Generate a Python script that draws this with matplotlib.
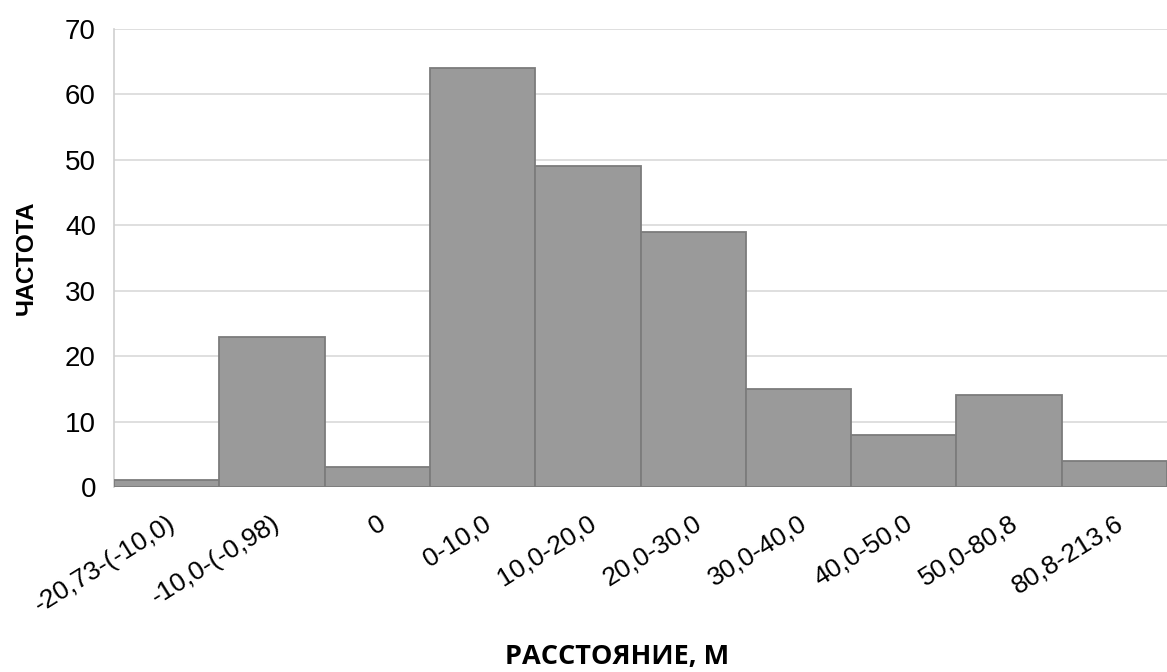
import matplotlib.pyplot as plt
import matplotlib.transforms as mtransforms
import numpy as np

# --- data
categories = ['-20,73-(-10,0)', '-10,0-(-0,98)', '0', '0-10,0', '10,0-20,0',
              '20,0-30,0', '30,0-40,0', '40,0-50,0', '50,0-80,8', '80,8-213,6']
frequency = [1, 23, 3, 64, 49, 39, 15, 8, 14, 4]

plt.rcParams['font.family'] = ['Liberation Sans', 'DejaVu Sans']

fig = plt.figure(figsize=(11.67, 6.72), dpi=100)
ax = fig.add_axes([0.0977, 0.2753, 0.9023, 0.6815])

x = np.arange(len(categories))
ax.bar(x, frequency, width=1.0, color='#9a9a9a', edgecolor='#7c7c7c', linewidth=1.3, zorder=3)

ax.set_xlim(-0.5, len(categories) - 0.5)
ax.set_ylim(0, 70)
ax.set_yticks(range(0, 71, 10))
ax.yaxis.grid(True, color='#d9d9d9', linewidth=1.2, zorder=0)

for side in ['top', 'right', 'bottom']:
    ax.spines[side].set_visible(False)
ax.spines['left'].set_color('#d0d0d0')
ax.spines['left'].set_linewidth(1.2)
ax.tick_params(axis='y', length=0, labelsize=20, pad=13)
ax.tick_params(axis='x', length=0, labelsize=19, pad=0)

# rotated category labels, top-right corner hooked just under each bar
ax.set_xticks(x)
ax.set_xticklabels(categories, rotation=32, ha='right', va='top', rotation_mode='anchor')
shift = mtransforms.ScaledTranslation(0.0, -0.24, fig.dpi_scale_trans)
for lbl in ax.get_xticklabels():
    lbl.set_transform(lbl.get_transform() + shift)

ax.set_ylabel('ЧАСТОТА', fontsize=17.5, fontweight='bold')
ax.yaxis.set_label_coords(-0.072, 0.5)
fig.text(0.529, 0.022, 'РАССТОЯНИЕ, М', fontsize=19.5, fontweight='bold',
         family=['Open Sans', 'DejaVu Sans'], ha='center', va='center')

fig.savefig('out.png', dpi=100)
